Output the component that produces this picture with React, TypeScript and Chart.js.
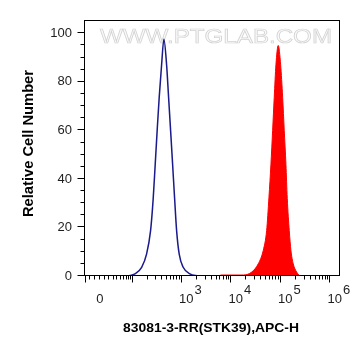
import React, { useEffect, useRef } from 'react';
import { Chart, registerables, Scale } from 'chart.js';

Chart.register(...registerables);

// ---- data ----
const controlX = [80, 114, 158, 200, 242, 274, 301, 330, 363, 406, 452, 513, 563, 618, 679, 745, 818, 923, 1111, 1519, 2235];
const controlY = [0, 0.9, 3.6, 9, 18.7, 32, 46, 60, 73.6, 87, 97.6, 87, 73.6, 60, 46, 32, 18.7, 9, 3.6, 0.9, 0];

const stk39X = [6130, 6300, 18100, 26800, 36400, 45900, 53800, 59900, 65700, 71100, 76600, 82900, 92300, 103200, 113300, 122000, 132000, 140300, 154000, 166600, 185400, 217200, 253200];
const stk39Y = [0, 0.4, 0.4, 1.6, 5, 10.5, 18.7, 32.4, 46, 60, 73.6, 87, 95, 87, 73.6, 60, 46, 32, 18.7, 10.5, 5, 1.6, 0];

const yMajorTicks = [0, 20, 40, 60, 80, 100];
const yMinorStep = 5;

const xLabelValues = [0, 1000, 10000, 100000, 1000000];
const xLabelBases = ['0', '10', '10', '10', '10'];
const xLabelExps = ['', '3', '4', '5', '6'];
const xMajorTicks = [-30, 100, 1000, 10000, 100000, 1000000];
const xNearZeroTicks = [-20, -10, 0, 10, 20, 30, 40, 50, 60, 70, 80, 90];

const xTitle = '83081-3-RR(STK39),APC-H';
const yTitle = 'Relative Cell Number';
const watermark = 'WWW.PTGLAB.COM';

// ---- biexponential-like (asinh) scale ----
const WIDTH_PARAM = 44.1;
const tf = (v: number) => Math.asinh(v / WIDTH_PARAM);
const itf = (t: number) => WIDTH_PARAM * Math.sinh(t);

class AsinhScale extends Scale {
  static id = 'asinh';
  static defaults = {};
  _t0 = 0;
  _t1 = 1;
  determineDataLimits() {
    const mm = this.getMinMax(true);
    const o: any = this.options;
    this.min = o.min ?? mm.min;
    this.max = o.max ?? mm.max;
  }
  buildTicks() {
    return [{ value: this.min }, { value: this.max }];
  }
  configure() {
    super.configure();
    this._t0 = tf(this.min);
    this._t1 = tf(this.max);
  }
  getLabelForValue(v: number) {
    return String(v);
  }
  getPixelForValue(v: number) {
    return this.getPixelForDecimal((tf(v) - this._t0) / (this._t1 - this._t0));
  }
  getValueForPixel(p: number) {
    return itf(this._t0 + this.getDecimalForPixel(p) * (this._t1 - this._t0));
  }
}
Chart.register(AsinhScale as any);

const FONT = '"Liberation Sans", Arial, Helvetica, sans-serif';

function fitText(ctx: CanvasRenderingContext2D, text: string, x: number, y: number, target: number) {
  const w = ctx.measureText(text).width;
  const s = target / w;
  ctx.save();
  ctx.translate(x, y);
  ctx.scale(s, 1);
  ctx.textAlign = 'center';
  ctx.fillText(text, 0, 0);
  ctx.restore();
}

function buildMinorX(): number[] {
  const out: number[] = [...xNearZeroTicks];
  for (let d = 100; d < 1000000; d *= 10) {
    for (let k = 2; k <= 9; k++) out.push(k * d);
  }
  return out;
}

const decorPlugin = {
  id: 'decor',
  beforeDatasetsDraw(chart: any) {
    const ctx: CanvasRenderingContext2D = chart.ctx;
    ctx.save();
    ctx.font = `20px ${FONT}`;
    ctx.textBaseline = 'alphabetic';
    const w = ctx.measureText(watermark).width;
    const s = 232 / w;
    ctx.translate(216, 43);
    ctx.scale(s, 1);
    ctx.textAlign = 'center';
    ctx.fillStyle = '#fafafa';
    ctx.fillText(watermark, 0, 0);
    ctx.strokeStyle = '#d2d2d2';
    ctx.lineWidth = 0.7;
    ctx.strokeText(watermark, 0, 0);
    ctx.restore();
  },
  afterDraw(chart: any) {
    const ctx: CanvasRenderingContext2D = chart.ctx;
    const a = chart.chartArea;
    const xs = chart.scales.x;
    const ys = chart.scales.y;
    ctx.save();
    // frame
    ctx.strokeStyle = '#000';
    ctx.lineWidth = 1;
    ctx.strokeRect(a.left + 0.5, a.top + 0.5, a.right - a.left - 1, a.bottom - a.top - 1);

    // y ticks
    const yBase = a.left + 0.5;
    for (let v = 0; v <= 100; v += yMinorStep) {
      const py = Math.round(ys.getPixelForValue(v)) - 0.5;
      const len = yMajorTicks.includes(v) ? 7 : 4;
      ctx.beginPath();
      ctx.moveTo(yBase - len, py);
      ctx.lineTo(yBase, py);
      ctx.stroke();
    }
    ctx.fillStyle = '#1e1e1e';
    ctx.font = `13px ${FONT}`;
    ctx.textAlign = 'right';
    ctx.textBaseline = 'middle';
    yMajorTicks.forEach((v) => {
      const py = ys.getPixelForValue(v);
      ctx.fillText(String(v), 72, py);
    });

    // x ticks
    const xBase = a.bottom - 0.5;
    const drawX = (v: number, len: number) => {
      const px = Math.round(xs.getPixelForValue(v)) + 0.5;
      ctx.beginPath();
      ctx.moveTo(px, xBase);
      ctx.lineTo(px, xBase + len);
      ctx.stroke();
    };
    buildMinorX().forEach((v) => drawX(v, 4));
    xMajorTicks.forEach((v) => drawX(v, 7));

    // x labels
    ctx.font = `13px ${FONT}`;
    ctx.textBaseline = 'alphabetic';
    xLabelValues.forEach((v, i) => {
      const px = xs.getPixelForValue(v);
      const base = xLabelBases[i];
      const exp = xLabelExps[i];
      if (!exp) {
        ctx.textAlign = 'center';
        ctx.fillText(base, px + 1, 303);
      } else {
        ctx.textAlign = 'left';
        const bx = px - 2;
        ctx.fillText(base, bx, 303);
        const bw = ctx.measureText(base).width;
        ctx.fillText(exp, bx + bw + 1, 294);
      }
    });

    // titles
    ctx.fillStyle = '#000';
    ctx.font = `bold 13px ${FONT}`;
    ctx.textBaseline = 'alphabetic';
    fitText(ctx, xTitle, 211, 332, 176);

    ctx.save();
    ctx.translate(33, 143.5);
    ctx.rotate(-Math.PI / 2);
    ctx.font = `bold 14px ${FONT}`;
    fitText(ctx, yTitle, 0, 0, 147);
    ctx.restore();

    ctx.restore();
  },
};

export default function App() {
  const ref = useRef<HTMLCanvasElement>(null);
  useEffect(() => {
    const chart = new Chart(ref.current as HTMLCanvasElement, {
      type: 'scatter',
      data: {
        datasets: [
          {
            label: 'STK39',
            data: stk39X.map((x, i) => ({ x, y: stk39Y[i] })),
            showLine: true,
            borderColor: '#ff0000',
            backgroundColor: '#ff0000',
            borderWidth: 1,
            pointRadius: 0,
            fill: 'origin',
            cubicInterpolationMode: 'monotone',
          },
          {
            label: 'Control',
            data: controlX.map((x, i) => ({ x, y: controlY[i] })),
            showLine: true,
            borderColor: '#1a1a8c',
            borderWidth: 1.5,
            pointRadius: 0,
            fill: false,
            cubicInterpolationMode: 'monotone',
          },
        ],
      } as any,
      options: {
        responsive: false,
        animation: false,
        devicePixelRatio: 1,
        events: [],
        layout: { padding: { left: 84, right: 21, top: 20, bottom: 80 } },
        scales: {
          x: { type: 'asinh', min: -33, max: 1630000, display: false } as any,
          y: { type: 'linear', min: 0, max: 105.5, display: false },
        },
        plugins: {
          legend: { display: false },
          tooltip: { enabled: false },
        },
      },
      plugins: [decorPlugin],
    });
    return () => chart.destroy();
  }, []);
  return (
    <canvas
      ref={ref}
      width={361}
      height={356}
      style={{ position: 'absolute', left: 0, top: 0, width: 361, height: 356 }}
    />
  );
}
